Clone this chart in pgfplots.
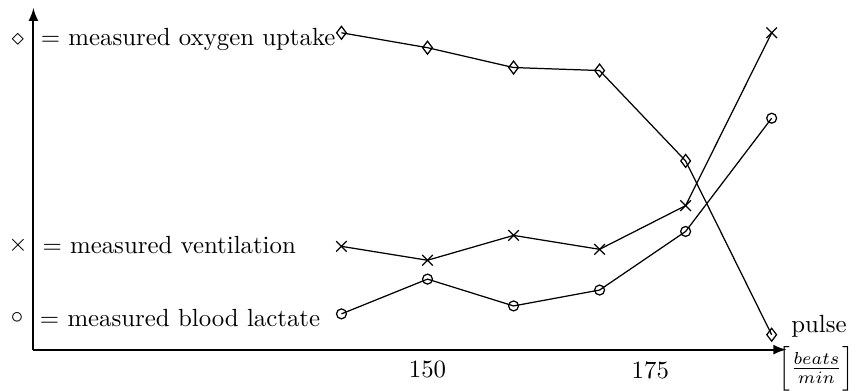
\documentclass[border=0pt]{standalone}
\usepackage{pgfplots}
\pgfplotsset{compat=1.18}
\begin{document}
\begin{tikzpicture}
\begin{axis}[
  scale only axis,
  width=303.2pt, height=137.6pt,
  xmin=104.2, xmax=191.7, ymin=0, ymax=344,
  axis lines=left,
  axis line style={line width=0.8pt, -latex},
  xtick={150,175.9}, xticklabels={150,175},
  xtick style={draw=none},
  ytick=\empty,
  xticklabel style={yshift=1pt},
  clip=false,
  every axis plot/.append style={black, line width=0.5pt},
]
\addplot[mark=diamond, mark size=2.6pt] coordinates {(140,319) (150,304) (160,284) (170,281) (180,190) (190,15)};
\addplot[mark=x, mark size=3pt] coordinates {(140,104) (150,90) (160,115) (170,101) (180,145) (190,319)};
\addplot[mark=o, mark size=2pt] coordinates {(140,36) (150,71) (160,44) (170,60) (180,119) (190,233)};
\node at (axis cs:102.4,312) {$\diamond$};
\node[anchor=west, inner sep=0pt] at (axis cs:105.0,312) {$=$ measured oxygen uptake};
\node at (axis cs:102.4,105) {$\times$};
\node[anchor=west, inner sep=0pt] at (axis cs:105.2,105) {$=$ measured ventilation};
\node at (axis cs:102.3,32) {$\circ$};
\node[anchor=west, inner sep=0pt] at (axis cs:104.9,32) {$=$ measured blood lactate};
\node[inner sep=0pt] at (axis cs:195.5,24) {pulse};
\node[inner sep=0pt] at (axis cs:195.2,-19) {$\Bigl[\frac{beats}{min}\Bigr]$};
\path (axis cs:100.97,352) (axis cs:199.8,-35);
\end{axis}
\end{tikzpicture}
\end{document}
